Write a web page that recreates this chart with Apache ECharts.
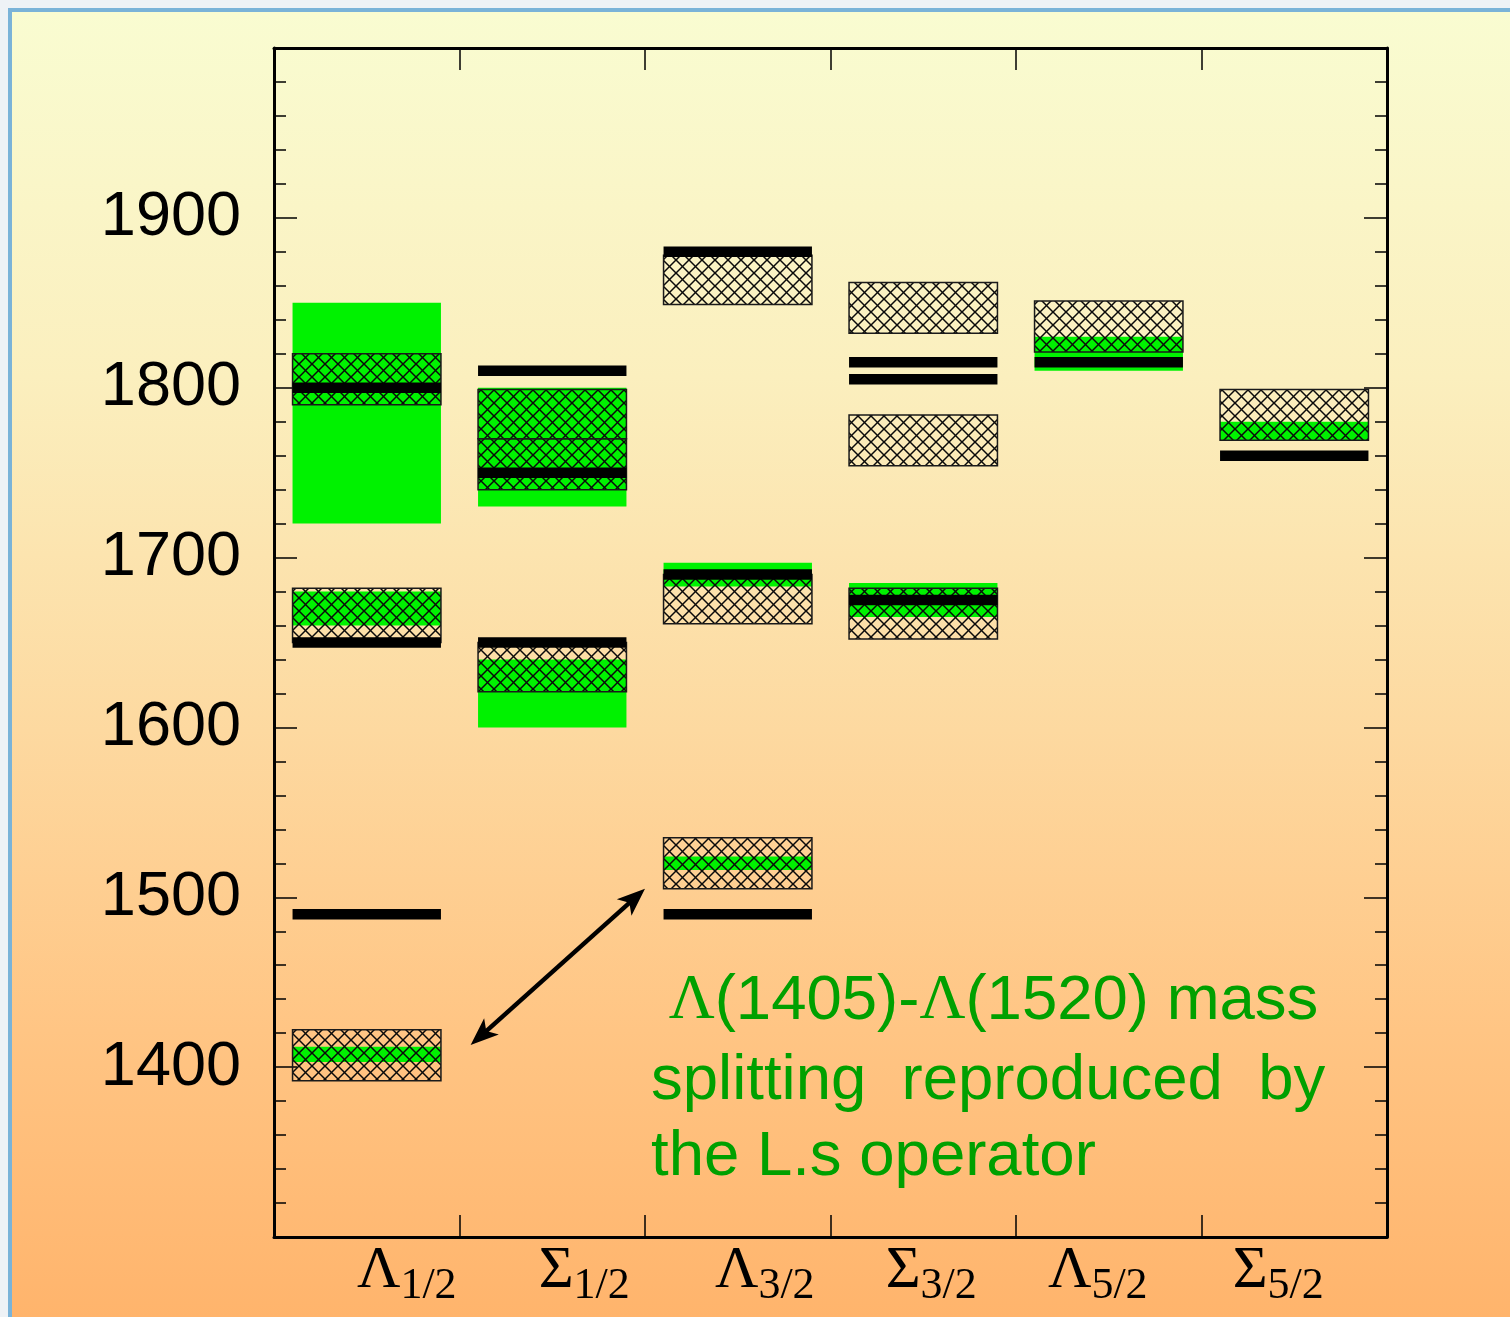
<!DOCTYPE html>
<html>
<head>
<meta charset="utf-8">
<script src="https://cdn.jsdelivr.net/npm/echarts@6/dist/echarts.min.js"></script>
<style>
  html, body { margin:0; padding:0; background:#eef2f6; }
  #bg { position:absolute; left:8px; top:8px; width:1502px; height:1309px; box-sizing:border-box;
        border-left:4px solid #7ab3d8; border-top:4px solid #7ab3d8;
        background:linear-gradient(to bottom, #f9fcd1 0%, #fbefbe 28%, #fdd9a0 55%, #ffc584 78%, #ffb46c 100%); }
  #chart { position:absolute; left:0; top:0; width:1510px; height:1317px; }
</style>
</head>
<body>
<div id="bg"></div>
<div id="chart"></div>
<script>
// ---- data ----
const greek = ['Λ', 'Σ', 'Λ', 'Σ', 'Λ', 'Σ'];
const subs  = ['1/2', '1/2', '3/2', '3/2', '5/2', '5/2'];
const labelShift = [40, 32, 27, 8, -11, -16];   // label offsets (px) from band centre

// experimental ranges (green bands): [category, low, high]
const expBands = [
  [0, 1720, 1850], [0, 1660, 1680], [0, 1403, 1412],
  [1, 1730, 1800], [1, 1600, 1640],
  [2, 1683, 1697], [2, 1516, 1524],
  [3, 1665, 1685],
  [4, 1810, 1830],
  [5, 1769, 1780]
];
// hatched ranges: [category, low, high]
const hatchBoxes = [
  [0, 1790, 1820], [0, 1650, 1682], [0, 1392, 1422],
  [1, 1770, 1799], [1, 1740, 1770], [1, 1621, 1650],
  [2, 1849, 1878], [2, 1661, 1690], [2, 1505, 1535],
  [3, 1832, 1862], [3, 1754, 1784], [3, 1652, 1682],
  [4, 1821, 1851],
  [5, 1769, 1799]
];
// computed levels (black bars): [category, mass]
const levels = [
  [0, 1800], [0, 1650], [0, 1490],
  [1, 1810], [1, 1750], [1, 1650],
  [2, 1880], [2, 1690], [2, 1490],
  [3, 1815], [3, 1805], [3, 1675],
  [4, 1815],
  [5, 1760]
];
const yMin = 1300, yMax = 2000, yStep = 100;
const arrowFrom = [0, 1413], arrowTo = [1, 1505]; // [category, mass]
const noteLines = ['\u00a0{g|Λ}(1405)-{g|Λ}(1520) mass', 'splitting  reproduced  by', 'the L.s operator'];

// ---- hatch pattern ----
const T = 13;
const hc = document.createElement('canvas');
hc.width = T; hc.height = T;
const hx = hc.getContext('2d');
hx.strokeStyle = '#0a0a0a';
hx.lineWidth = 1.5;
for (const d of [-T, 0, T]) {
  hx.beginPath(); hx.moveTo(d, 0); hx.lineTo(d + T, T); hx.stroke();
  hx.beginPath(); hx.moveTo(d + T, 0); hx.lineTo(d, T); hx.stroke();
}
const hatchFill = { image: hc, repeat: 'repeat' };

const GREEN = '#00f200';
const BOX_FRAC = 0.8;

function boxItem(fillKind) {
  return function (params, api) {
    const ci = api.value(0), lo = api.value(1), hi = api.value(2);
    const pTop = api.coord([ci, hi]);
    const pBot = api.coord([ci, lo]);
    const bw = api.size([1, 0])[0] * BOX_FRAC;
    const shape = { x: pTop[0] - bw / 2, y: pTop[1], width: bw, height: pBot[1] - pTop[1] };
    if (fillKind === 'green') {
      return { type: 'rect', shape, style: { fill: GREEN } };
    }
    return { type: 'rect', shape, style: { fill: hatchFill, stroke: '#1a1a1a', lineWidth: 1.5 } };
  };
}
function levelItem(params, api) {
  const ci = api.value(0), m = api.value(1);
  const p = api.coord([ci, m]);
  const bw = api.size([1, 0])[0] * BOX_FRAC;
  const h = 10.5;
  return { type: 'rect', shape: { x: p[0] - bw / 2, y: p[1] - h / 2, width: bw, height: h }, style: { fill: '#000' } };
}

const catData = greek.map((g, i) => {
  const s = labelShift[i];
  return { value: g + subs[i], textStyle: { padding: s >= 0 ? [0, 0, 0, 2 * s] : [0, -2 * s, 0, 0] } };
});

const chart = echarts.init(document.getElementById('chart'), null, { renderer: 'canvas' });
const axisLineStyle = { color: '#000', width: 3 };
const option = {
  backgroundColor: 'transparent',
  animation: false,
  grid: { left: 274, right: 123, top: 48, bottom: 80 },
  xAxis: [
    {
      type: 'category', position: 'bottom', data: catData, boundaryGap: true,
      axisLine: { show: true, lineStyle: axisLineStyle },
      axisTick: { show: true, inside: true, length: 22, lineStyle: { color: '#000', width: 1.5 } },
      axisLabel: {
        margin: 4,
        formatter: v => '{g|' + v.charAt(0) + '}{s|' + v.slice(1) + '}',
        rich: {
          g: { fontFamily: 'Liberation Serif', fontSize: 60, color: '#000', verticalAlign: 'bottom', padding: [0, 0, 7, 0] },
          s: { fontFamily: 'Liberation Serif', fontSize: 44, color: '#000', verticalAlign: 'bottom' }
        }
      },
      splitLine: { show: false }
    },
    {
      type: 'category', position: 'top', data: catData, boundaryGap: true,
      axisLine: { show: true, lineStyle: axisLineStyle },
      axisTick: { show: true, inside: true, length: 22, lineStyle: { color: '#000', width: 1.5 } },
      axisLabel: { show: false },
      splitLine: { show: false }
    }
  ],
  yAxis: [
    {
      type: 'value', position: 'left', min: yMin, max: yMax, interval: yStep,
      axisLine: { show: true, lineStyle: axisLineStyle },
      axisTick: { show: true, inside: true, length: 23, lineStyle: { color: '#000', width: 1.5 } },
      minorTick: { show: true, splitNumber: 5, length: 12, lineStyle: { color: '#000', width: 1.5 } },
      axisLabel: {
        margin: 33, fontFamily: 'Liberation Sans', fontSize: 63, color: '#000',
        formatter: v => (v === yMin || v === yMax) ? '' : String(v)
      },
      splitLine: { show: false }
    },
    {
      type: 'value', position: 'right', min: yMin, max: yMax, interval: yStep,
      axisLine: { show: true, lineStyle: axisLineStyle },
      axisTick: { show: true, inside: true, length: 23, lineStyle: { color: '#000', width: 1.5 } },
      minorTick: { show: true, splitNumber: 5, length: 12, lineStyle: { color: '#000', width: 1.5 } },
      axisLabel: { show: false },
      splitLine: { show: false }
    }
  ],
  series: [
    { type: 'custom', name: 'experiment', xAxisIndex: 0, yAxisIndex: 0, data: expBands,
      encode: { x: 0, y: [1, 2] }, renderItem: boxItem('green'), z: 2 },
    { type: 'custom', name: 'hatched', xAxisIndex: 0, yAxisIndex: 0, data: hatchBoxes,
      encode: { x: 0, y: [1, 2] }, renderItem: boxItem('hatch'), z: 3 },
    { type: 'custom', name: 'levels', xAxisIndex: 0, yAxisIndex: 0, data: levels,
      encode: { x: 0, y: 1 }, renderItem: levelItem, z: 4 }
  ]
};
chart.setOption(option);

// ---- annotation: double arrow + text ----
function pt(ref, frac) {
  const p = chart.convertToPixel({ xAxisIndex: 0, yAxisIndex: 0 }, [ref[0], ref[1]]);
  const band = chart.convertToPixel({ xAxisIndex: 0 }, 1) - chart.convertToPixel({ xAxisIndex: 0 }, 0);
  return [p[0] + band * frac, p[1]];
}
const A = pt(arrowFrom, 0.56);
const B = pt(arrowTo, 0.5);
function head(tip, from, len, hw) {
  const dx = tip[0] - from[0], dy = tip[1] - from[1];
  const L = Math.hypot(dx, dy), ux = dx / L, uy = dy / L;
  const bx = tip[0] - ux * len, by = tip[1] - uy * len;
  return [[tip[0], tip[1]], [bx - uy * hw, by + ux * hw], [tip[0] - ux * len * 0.75, tip[1] - uy * len * 0.75], [bx + uy * hw, by - ux * hw]];
}
function shrink(p, q, d) {
  const dx = q[0] - p[0], dy = q[1] - p[1], L = Math.hypot(dx, dy);
  return [p[0] + dx / L * d, p[1] + dy / L * d];
}
const noteStyle = { font: '63.5px "Liberation Sans"', fill: '#00a000' };
chart.setOption({
  graphic: [
    { type: 'line', shape: { x1: shrink(A, B, 12)[0], y1: shrink(A, B, 12)[1], x2: shrink(B, A, 12)[0], y2: shrink(B, A, 12)[1] },
      style: { stroke: '#000', lineWidth: 4.5 }, z: 10 },
    { type: 'polygon', shape: { points: head(B, A, 28, 11) }, style: { fill: '#000' }, z: 10 },
    { type: 'polygon', shape: { points: head(A, B, 28, 11) }, style: { fill: '#000' }, z: 10 },
    { type: 'text', left: 651, top: 969, z: 10,
      style: Object.assign({ text: noteLines[0], rich: { g: { fontFamily: 'Liberation Serif', fontSize: 63.5, fill: '#00a000' } } }, noteStyle) },
    { type: 'text', left: 651, top: 1049, z: 10, style: Object.assign({ text: noteLines[1] }, noteStyle) },
    { type: 'text', left: 651, top: 1125, z: 10, style: Object.assign({ text: noteLines[2] }, noteStyle) }
  ]
});
</script>
</body>
</html>
